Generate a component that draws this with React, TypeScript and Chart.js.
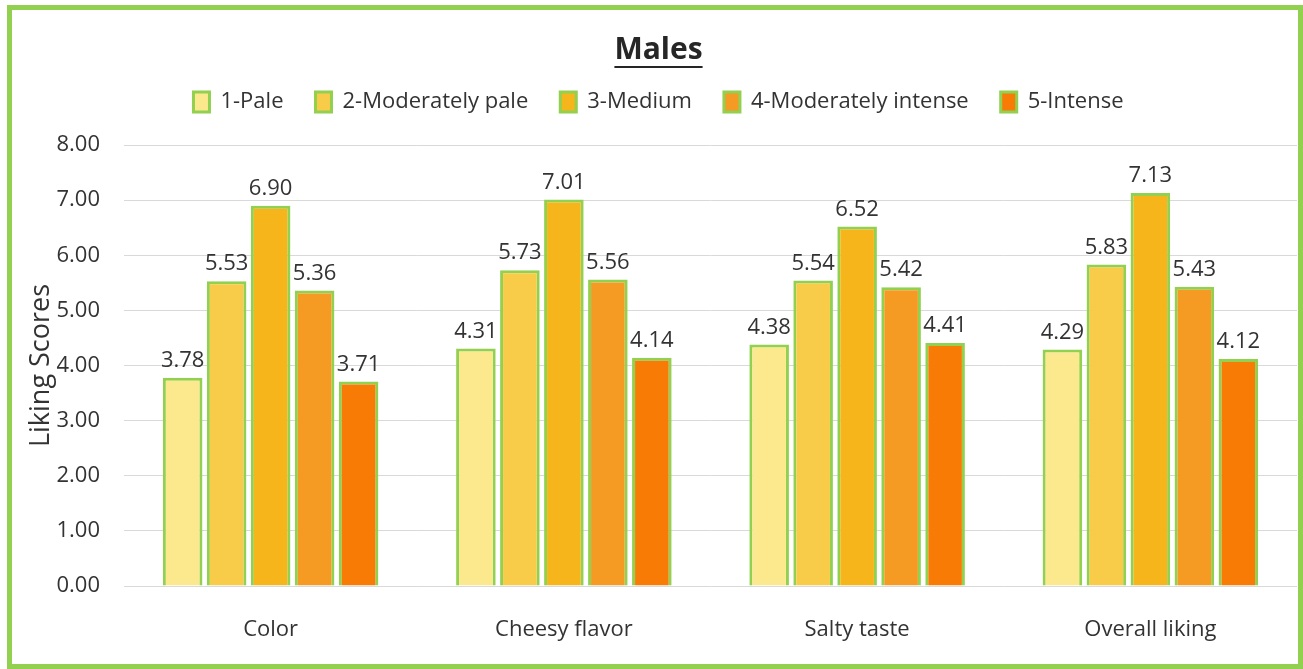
import React, { useEffect, useRef } from "react";
import { Chart, registerables } from "chart.js";

Chart.register(...registerables);

const categories = ["Color", "Cheesy flavor", "Salty taste", "Overall liking"];
const seriesNames = ["1-Pale", "2-Moderately pale", "3-Medium", "4-Moderately intense", "5-Intense"];
const pale = [3.78, 4.31, 4.38, 4.29];
const moderatelyPale = [5.53, 5.73, 5.54, 5.83];
const medium = [6.9, 7.01, 6.52, 7.13];
const moderatelyIntense = [5.36, 5.56, 5.42, 5.43];
const intense = [3.71, 4.14, 4.41, 4.12];
const yTicks = [0, 1, 2, 3, 4, 5, 6, 7, 8];

const fills = ["#FCE98E", "#F8CB48", "#F6B51A", "#F59B24", "#F87B06"];
const borderGreen = "#92D050";
const FONT = "'Open Sans', 'Noto Sans', sans-serif";

const valueLabels = {
  id: "valueLabels",
  afterDatasetsDraw(chart: any) {
    const ctx = chart.ctx;
    ctx.save();
    ctx.font = `22px ${FONT}`;
    ctx.fillStyle = "#333333";
    ctx.textAlign = "center";
    ctx.textBaseline = "bottom";
    chart.data.datasets.forEach((ds: any, i: number) => {
      const meta = chart.getDatasetMeta(i);
      meta.data.forEach((bar: any, j: number) => {
        ctx.fillText(Number(ds.data[j]).toFixed(2), bar.x, bar.y - 6);
      });
    });
    ctx.restore();
  },
};

const legendSpacer = {
  id: "legendSpacer",
  beforeInit(chart: any) {
    const legend = chart.legend;
    if (!legend) return;
    const orig = legend.fit;
    legend.fit = function () {
      orig.call(this);
      this.height += 22;
    };
  },
};

const titleUnderline = {
  id: "titleUnderline",
  afterDraw(chart: any) {
    const tb = chart.titleBlock;
    if (!tb) return;
    const ctx = chart.ctx;
    ctx.save();
    ctx.font = `bold 30px ${FONT}`;
    const w = ctx.measureText("Males").width;
    const cxT = tb.left + tb.width / 2;
    const cy = tb.top + tb.options.padding.top + 9;
    ctx.strokeStyle = "#262626";
    ctx.lineWidth = 2;
    ctx.beginPath();
    ctx.moveTo(cxT - w / 2, cy + 17);
    ctx.lineTo(cxT + w / 2, cy + 17);
    ctx.stroke();
    ctx.restore();
  },
};

export default function App() {
  const ref = useRef<HTMLCanvasElement>(null);
  useEffect(() => {
    if (!ref.current) return;
    const series = [pale, moderatelyPale, medium, moderatelyIntense, intense];
    const chart = new Chart(ref.current, {
      type: "bar",
      data: {
        labels: categories,
        datasets: series.map((d, i) => ({
          label: seriesNames[i],
          data: d,
          backgroundColor: fills[i],
          borderColor: borderGreen,
          borderWidth: 3,
          barPercentage: 0.9,
          categoryPercentage: 0.75,
        })),
      },
      options: {
        responsive: false,
        animation: false,
        layout: { padding: { left: 8, right: 3, top: 0, bottom: 0 } },
        plugins: {
          title: {
            display: true,
            text: "Males",
            color: "#262626",
            font: { family: FONT, size: 30, weight: "bold", lineHeight: 0.6 },
            padding: { top: 31, bottom: 0 },
          },
          legend: {
            position: "top",
            labels: {
              color: "#333333",
              font: { family: FONT, size: 22 },
              boxWidth: 16,
              boxHeight: 20,
              padding: 32,
              generateLabels: (chart: any) =>
                chart.data.datasets.map((ds: any, i: number) => ({
                  text: ds.label,
                  fillStyle: fills[i],
                  strokeStyle: borderGreen,
                  lineWidth: 3,
                  datasetIndex: i,
                  fontColor: "#333333",
                })),
            },
          },
          tooltip: { enabled: false },
        },
        scales: {
          x: {
            grid: { display: false, drawTicks: false },
            border: { display: false },
            ticks: { color: "#333333", font: { family: FONT, size: 22 }, padding: 31 },
            afterFit: (axis: any) => {
              axis.height = 79;
            },
          },
          y: {
            min: 0,
            max: 8,
            afterBuildTicks: (axis: any) => {
              axis.ticks = yTicks.map((v) => ({ value: v }));
            },
            afterFit: (axis: any) => {
              axis.width = 104;
            },
            grid: { color: "#D9D9D9", lineWidth: 1, drawTicks: false },
            border: { display: false },
            ticks: {
              color: "#333333",
              font: { family: FONT, size: 22 },
              padding: 24,
              callback: (v: any) => Number(v).toFixed(2),
            },
            title: {
              display: true,
              text: "Liking Scores",
              color: "#333333",
              font: { family: FONT, size: 27 },
              padding: { top: 5, bottom: 0 },
            },
          },
        },
      },
      plugins: [legendSpacer, valueLabels, titleUnderline],
    });
    return () => chart.destroy();
  }, []);

  return (
    <div style={{ position: "fixed", left: 0, top: 0, width: 1303, height: 669, background: "#fff" }}>
      <canvas
        ref={ref}
        width={1288}
        height={655}
        style={{ position: "absolute", left: 12, top: 10, display: "block" }}
      />
      <div
        style={{
          position: "absolute",
          left: 7,
          top: 5,
          width: 1296,
          height: 664,
          border: `5px solid ${borderGreen}`,
          boxSizing: "border-box",
          pointerEvents: "none",
        }}
      />
    </div>
  );
}
